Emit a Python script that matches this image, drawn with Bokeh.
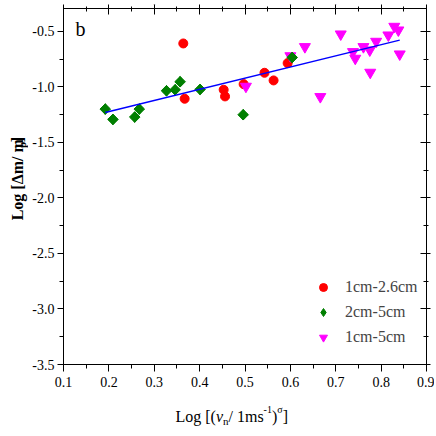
import numpy as np
from bokeh.plotting import figure
from bokeh.layouts import row, column
from bokeh.models import (Range1d, LinearAxis, SingleIntervalTicker, Label, Legend,
                          LegendItem, PrintfTickFormatter)
from bokeh.embed import file_html
from bokeh.resources import INLINE

# ---- data ----
red_x = [0.364, 0.367, 0.453, 0.456, 0.497, 0.543, 0.563, 0.594]
red_y = [-0.608, -1.106, -1.025, -1.085, -0.974, -0.872, -0.941, -0.785]

green_x = [0.192, 0.209, 0.257, 0.267, 0.327, 0.346, 0.357, 0.401, 0.496, 0.604]
green_y = [-1.199, -1.292, -1.271, -1.199, -1.034, -1.025, -0.953, -1.022, -1.250, -0.734]

mag_x = [0.502, 0.600, 0.632, 0.666, 0.711, 0.738, 0.743, 0.761, 0.775, 0.776,
         0.789, 0.816, 0.829, 0.838, 0.841]
mag_y = [-0.995, -0.720, -0.638, -1.088, -0.524, -0.683, -0.743, -0.638, -0.668, -0.869,
         -0.590, -0.533, -0.455, -0.488, -0.704]

fit_x = [0.192, 0.841]
fit_y = [-1.229, -0.578]

labels = ["1cm-2.6cm", "2cm-5cm", "1cm-5cm"]

SERIF = "Liberation Serif"

X0, X1 = 0.1, 0.9
Y0, Y1 = -3.5, -0.293
FW, FH = 363, 356
YLW = 28          # width of the strip holding the y-axis title
PH = 396          # height of the main figure
ML = 63 - YLW     # left border of the main figure
MT = 6

p = figure(frame_width=FW, frame_height=FH,
           x_range=Range1d(X0, X1), y_range=Range1d(Y0, Y1),
           output_backend="svg", toolbar_location=None,
           min_border_left=ML, min_border_right=8, min_border_top=MT,
           min_border_bottom=PH - MT - FH)
p.xgrid.grid_line_color = None
p.ygrid.grid_line_color = None
p.outline_line_color = "black"
p.outline_line_width = 1
p.background_fill_alpha = 0
p.border_fill_alpha = 0

xt = SingleIntervalTicker(interval=0.1, num_minor_ticks=2)
yt = SingleIntervalTicker(interval=0.5, num_minor_ticks=2)

for ax in p.xaxis:
    ax.ticker = xt
    ax.formatter = PrintfTickFormatter(format="%.1f")
    ax.major_tick_in = 0
    ax.major_tick_out = 7
    ax.minor_tick_in = 0
    ax.minor_tick_out = 4
    ax.major_label_standoff = 5
    ax.major_label_text_font = SERIF
    ax.major_label_text_font_size = "14px"
    ax.major_label_text_color = "black"
    ax.axis_line_color = "black"

for ax in p.yaxis:
    ax.ticker = yt
    ax.formatter = PrintfTickFormatter(format="%.1f")
    ax.major_tick_in = 0
    ax.major_tick_out = 6
    ax.minor_tick_in = 0
    ax.minor_tick_out = 4
    ax.major_label_standoff = 3
    ax.major_label_text_font = SERIF
    ax.major_label_text_font_size = "14px"
    ax.major_label_text_color = "black"
    ax.axis_line_color = "black"

# mirrored tick axes on the top and right frame edges
top = LinearAxis(ticker=SingleIntervalTicker(interval=0.1, num_minor_ticks=2),
                 major_tick_in=6, major_tick_out=4,
                 minor_tick_in=3, minor_tick_out=2, major_label_standoff=0,
                 major_label_overrides={i / 10: "" for i in range(0, 11)},
                 major_label_text_font_size="1px",
                 axis_line_color="black")
right = LinearAxis(ticker=SingleIntervalTicker(interval=0.5, num_minor_ticks=2),
                   major_tick_in=6, major_tick_out=4,
                   minor_tick_in=3, minor_tick_out=2, major_label_standoff=0,
                   major_label_overrides={-i / 2: "" for i in range(0, 9)},
                   major_label_text_font_size="1px",
                   axis_line_color="black")
p.add_layout(top, "above")
p.add_layout(right, "right")

r_red = p.scatter(red_x, red_y, marker="circle", size=9, fill_color="#ff0000",
                  line_color="#ff0000")
r_mag = p.scatter(mag_x, mag_y, marker="inverted_triangle", size=11, fill_color="#ff00ff",
                  line_color="#ff00ff")
# diamond glyph (used as the legend key), covered by the rotated squares
r_green_key = p.scatter(green_x, green_y, marker="diamond", size=10.5,
                        fill_color="#007f00", line_color="#007f00")
r_green = p.scatter(green_x, green_y, marker="square", angle=np.pi / 4, size=7.5,
                    fill_color="#007f00", line_color="#007f00")
p.line(fit_x, fit_y, line_color="#0000ff", line_width=1.5)

legend = Legend(items=[LegendItem(label=labels[0], renderers=[r_red]),
                       LegendItem(label=labels[1], renderers=[r_green_key]),
                       LegendItem(label=labels[2], renderers=[r_mag])],
                location=(250, 17), border_line_alpha=0, background_fill_alpha=0,
                padding=0, margin=0, spacing=5, glyph_width=20, glyph_height=20,
                label_height=20, label_standoff=12, label_text_font=SERIF,
                label_text_font_size="16px", label_text_baseline="middle")
p.add_layout(legend)

p.add_layout(Label(x=12, y=336, x_units="screen", y_units="screen", text="b",
                   text_font=SERIF, text_font_size="20px", text_color="black",
                   text_baseline="alphabetic"))


def strip(w, h):
    f = figure(width=w, height=h, x_range=Range1d(0, w), y_range=Range1d(0, h),
               output_backend="svg", toolbar_location=None, min_border=0,
               x_axis_location=None, y_axis_location=None)
    f.outline_line_color = None
    f.xgrid.grid_line_color = None
    f.ygrid.grid_line_color = None
    f.background_fill_alpha = 0
    f.border_fill_alpha = 0
    return f


def lab(f, text, x, y, size, style="normal", angle=0.0):
    f.add_layout(Label(x=x, y=y, x_units="data", y_units="data", text=text,
                       text_font=SERIF, text_font_size=size, text_font_style=style,
                       text_color="black", angle=angle, text_align="left",
                       text_baseline="alphabetic"))


# y-axis title strip: Log [Δm/ m_p]   (page x 0..YLW, page y 0..396)
yl = strip(YLW, PH)
yb = 17                 # baseline x in page px
ys = PH - 237           # start (bottom end) of the text
lab(yl, "Log [Δm/ m", yb, ys, "16px", "bold", np.pi / 2)
lab(yl, "p", yb + 4, ys + 81, "11px", "bold", np.pi / 2)
lab(yl, "]", yb, ys + 87.5, "16px", "bold", np.pi / 2)

# x-axis title strip: Log [(v_n/ 1ms^-1)^sigma]  (page y 396..434)
XH = 38
xl = strip(YLW + ML + FW + 8, XH)
xb = XH - (414 - PH)    # baseline
x0 = 175
lab(xl, "Log [(", x0, xb, "16px")
lab(xl, "v", x0 + 40.4, xb, "16px", "italic")
lab(xl, "n", x0 + 47.5, xb - 4, "11px")
lab(xl, "/ 1ms", x0 + 53, xb, "16px")
lab(xl, "-1", x0 + 88.1, xb + 7, "10px")
lab(xl, ")", x0 + 96.4, xb, "16px")
lab(xl, "σ", x0 + 101.7, xb + 7, "10px")
lab(xl, "]", x0 + 107.2, xb, "16px")

layout = column(row(yl, p, spacing=0), xl, spacing=0)

open("out.html", "w").write(file_html(layout, INLINE))
